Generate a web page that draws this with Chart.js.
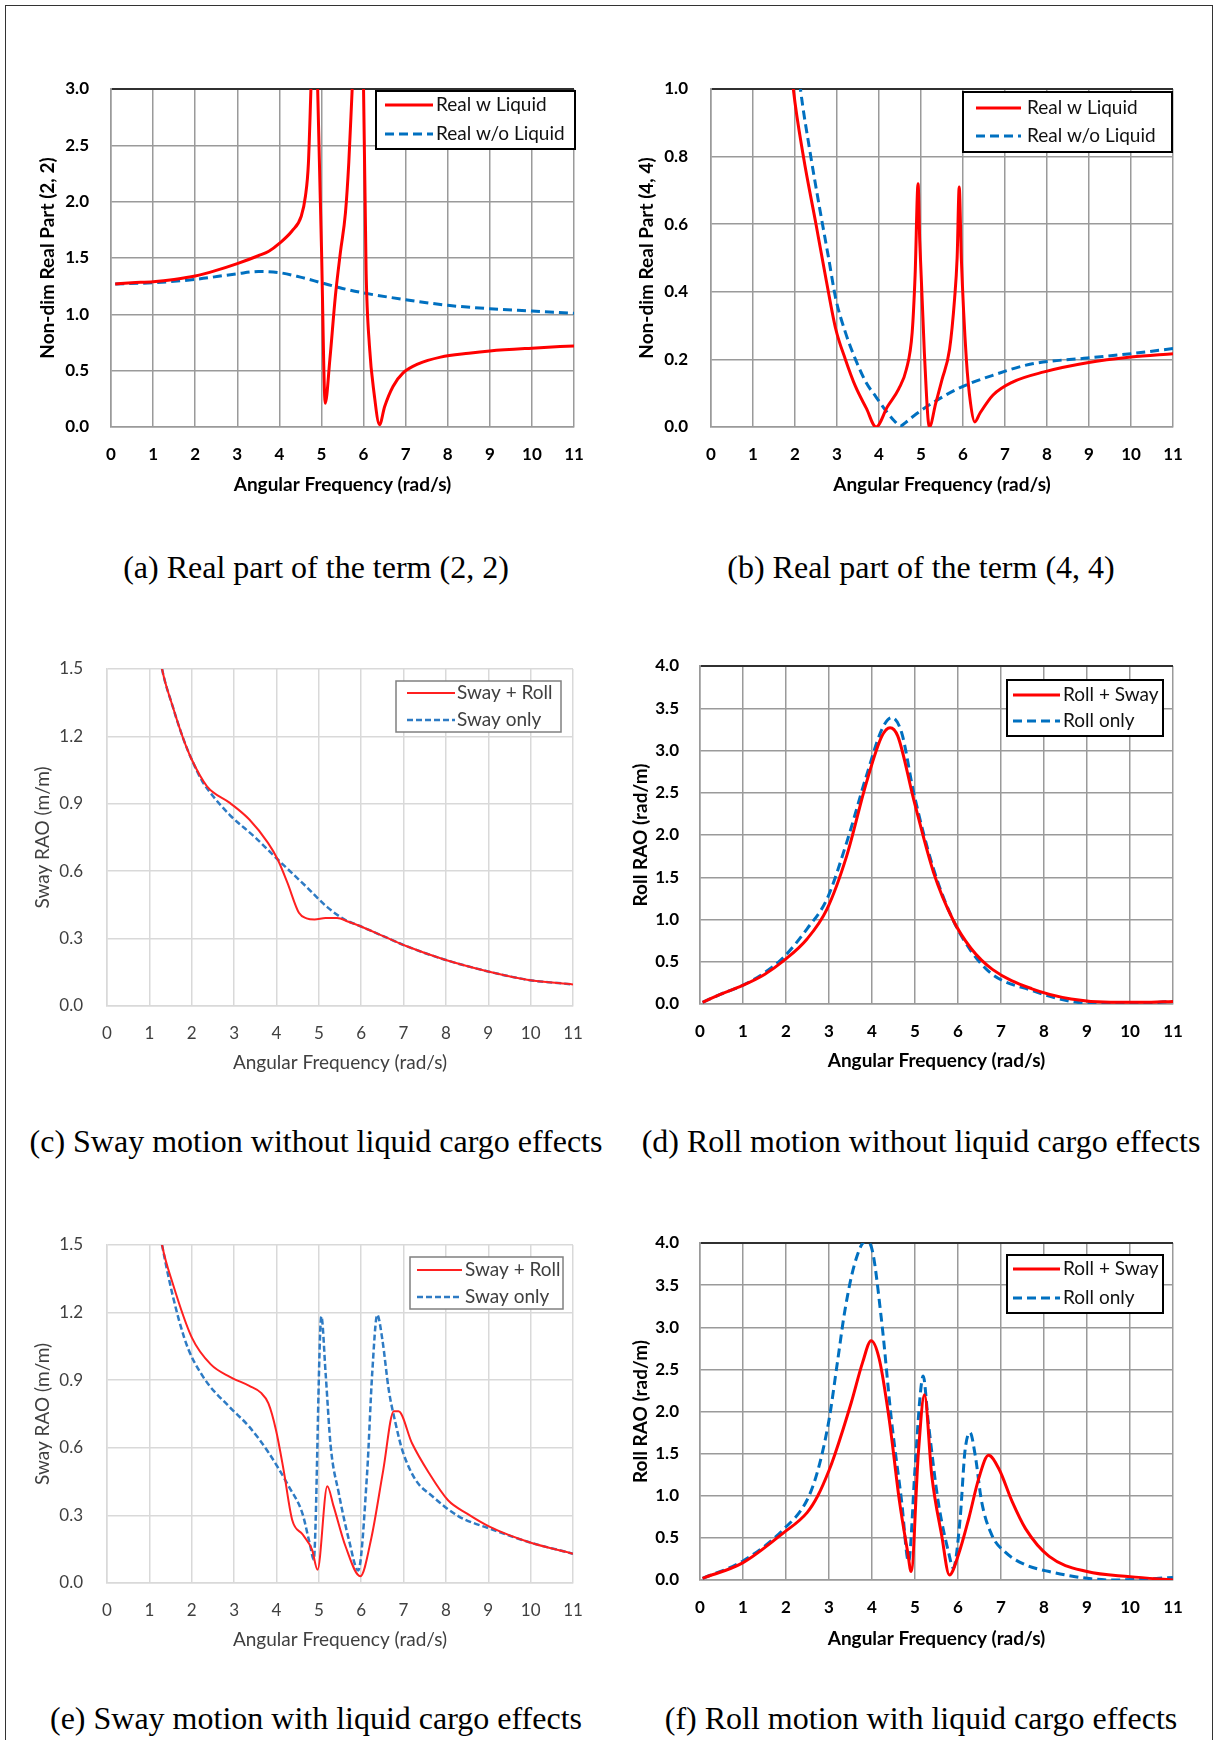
<!DOCTYPE html>
<html>
<head>
<meta charset="utf-8">
<title>Hydrodynamic coefficients and RAOs</title>
<script src="https://cdn.jsdelivr.net/npm/chart.js@4.4.1/dist/chart.umd.min.js"></script>
<style>
  body { margin: 0; background: #fff; }
  #page { position: relative; width: 1216px; height: 1740px; overflow: hidden; background: #fff; }
  #frame { position: absolute; left: 5px; top: 5px; width: 1206px; height: 1800px; border: 1.5px solid #333; }
  canvas { position: absolute; }
  .cap {
    position: absolute; white-space: nowrap; color: #000;
    font-family: "Liberation Serif", "Times New Roman", serif; font-size: 32px;
    transform: translate(-50%, -50%);
  }
</style>
</head>
<body>
<div id="page"><div id="frame"></div></div>
<script>
/*----------------------------------------------------------------------------*/
/* Data                                              */
/*----------------------------------------------------------------------------*/
const xTicks = [0, 1, 2, 3, 4, 5, 6, 7, 8, 9, 10, 11];
const yTicksRealA = [0, 0.5, 1, 1.5, 2, 2.5, 3];
const yTicksRealB = [0, 0.2, 0.4, 0.6, 0.8, 1];
const yTicksSway = [0, 0.3, 0.6, 0.9, 1.2, 1.5];
const yTicksRoll = [0, 0.5, 1, 1.5, 2, 2.5, 3, 3.5, 4];

const labelsReal = ["Real w Liquid", "Real w/o Liquid"];
const labelsSway = ["Sway + Roll", "Sway only"];
const labelsRoll = ["Roll + Sway", "Roll only"];

const xTitle = "Angular Frequency (rad/s)";
const yTitles = ["Non-dim Real Part (2, 2)", "Non-dim Real Part (4, 4)", "Sway RAO (m/m)",
                 "Roll RAO (rad/m)", "Sway RAO (m/m)", "Roll RAO (rad/m)"];
const captions = ["(a) Real part of the term (2, 2)", "(b) Real part of the term (4, 4)",
                  "(c) Sway motion without liquid cargo effects", "(d) Roll motion without liquid cargo effects",
                  "(e) Sway motion with liquid cargo effects", "(f) Roll motion with liquid cargo effects"];

// (a) term (2, 2)
const aWithX = [0.1, 0.5, 1, 1.5, 2, 2.5, 3, 3.5, 3.75, 4, 4.3, 4.52, 4.62, 4.69, 4.75, 4.8, 4.84, 4.91, 5.0, 5.09,
                5.2, 5.33, 5.45, 5.57, 5.65, 5.73, 5.86, 6.0, 6.06, 6.14, 6.25, 6.38, 6.5, 6.7, 6.94, 7.3, 7.83,
                8.5, 9, 10, 11];
const aWithY = [1.27, 1.28, 1.29, 1.31, 1.34, 1.39, 1.45, 1.52, 1.56, 1.63, 1.74, 1.87, 2.05, 2.34, 3.0, 3.6, 4.2, 3.0, 1.6, 0.21,
                0.6, 1.16, 1.55, 1.9, 2.35, 3.0, 4.0, 3.0, 1.4, 0.72, 0.3, 0.02, 0.18, 0.36, 0.48, 0.56, 0.62,
                0.655, 0.675, 0.7, 0.72];
const aWithoutX = [0.1, 1, 2, 3, 3.5, 4, 4.5, 5, 5.5, 6, 7, 8, 9, 10, 11];
const aWithoutY = [1.27, 1.28, 1.31, 1.36, 1.38, 1.37, 1.33, 1.28, 1.23, 1.19, 1.13, 1.08, 1.05, 1.03, 1.01];

// (b) term (4, 4)
const bWithX = [1.9, 1.96, 2.2, 2.5, 2.75, 2.97, 3.2, 3.44, 3.7, 3.93, 4.2, 4.47, 4.65, 4.79, 4.86, 4.93, 4.97, 5.08, 5.2,
                5.35, 5.5, 5.68, 5.8, 5.86, 5.91, 5.96, 6.08, 6.18, 6.28, 6.4, 6.71, 7.18, 7.93, 8.96, 10, 11];
const bWithY = [1.08, 1.0, 0.8, 0.6, 0.43, 0.29, 0.2, 0.12, 0.055, 0.0, 0.06, 0.113, 0.17, 0.28, 0.45, 0.72, 0.55, 0.22, 0.0,
                0.07, 0.14, 0.23, 0.38, 0.5, 0.71, 0.5, 0.2, 0.07, 0.015, 0.04, 0.094, 0.133, 0.163, 0.19, 0.207, 0.217];
const bWithoutX = [2.08, 2.13, 2.35, 2.59, 2.8, 2.97, 3.2, 3.44, 3.7, 3.9, 4.19, 4.35, 4.51, 4.65, 4.84, 5.31, 5.96,
                   6.71, 7.65, 8.96, 10, 11];
const bWithoutY = [1.06, 1.0, 0.82, 0.645, 0.5, 0.38, 0.28, 0.2, 0.13, 0.094, 0.044, 0.02, 0.003, 0.015, 0.034, 0.074,
                   0.118, 0.153, 0.187, 0.204, 0.217, 0.232];

// (c) sway, no liquid
const cCoupledX = [1.2, 1.3, 1.55, 1.8, 2.0, 2.36, 2.9, 3.36, 3.8, 4.03, 4.26, 4.53, 4.71, 4.9, 5.16, 5.43, 5.7, 5.97,
                   6.52, 7.06, 7.96, 8.95, 9.95, 11];
const cCoupledY = [1.62, 1.5, 1.334, 1.19, 1.097, 0.978, 0.904, 0.83, 0.726, 0.652, 0.548, 0.415, 0.39, 0.385, 0.392,
                   0.392, 0.375, 0.356, 0.311, 0.267, 0.207, 0.156, 0.116, 0.096];
const cSingleX = [1.2, 1.3, 1.55, 1.8, 2.0, 2.25, 2.5, 2.9, 3.5, 4.03, 4.71, 5.2, 5.61, 5.97, 6.52, 7.06, 7.96, 8.95,
                  9.95, 11];
const cSingleY = [1.62, 1.5, 1.334, 1.19, 1.097, 1.0, 0.935, 0.85, 0.75, 0.652, 0.53, 0.44, 0.385, 0.356, 0.311,
                  0.267, 0.207, 0.156, 0.116, 0.096];

// (d) roll, no liquid
const dCoupledX = [0.06, 0.5, 0.98, 1.5, 1.94, 2.49, 2.95, 3.41, 3.87, 4.23, 4.42, 4.6, 4.97, 5.43, 5.88, 6.3, 6.8, 7.72,
                   8.63, 9.55, 10.3, 11];
const dCoupledY = [0.02, 0.12, 0.217, 0.35, 0.51, 0.77, 1.12, 1.75, 2.62, 3.17, 3.27, 3.17, 2.42, 1.56, 1.0, 0.66, 0.41,
                   0.18, 0.06, 0.02, 0.02, 0.03];
const dSingleX = [0.06, 0.5, 0.98, 1.5, 1.94, 2.49, 2.95, 3.41, 3.87, 4.23, 4.46, 4.69, 4.97, 5.43, 5.88, 6.3, 6.8, 7.72,
                  8.63, 9.55, 10.3, 11];
const dSingleY = [0.02, 0.12, 0.217, 0.37, 0.55, 0.89, 1.24, 1.91, 2.7, 3.25, 3.39, 3.21, 2.5, 1.6, 1.0, 0.63, 0.35,
                  0.16, 0.03, 0.0, 0.01, 0.03];

// (e) sway, with liquid
const eCoupledX = [1.2, 1.3, 1.55, 2.0, 2.45, 2.9, 3.36, 3.63, 3.81, 3.99, 4.17, 4.37, 4.62, 4.84, 4.97, 5.2, 5.35, 5.63,
                   5.98, 6.24, 6.52, 6.77, 6.88, 7.2, 7.6, 8.05, 8.5, 9.04, 9.95, 11];
const eCoupledY = [1.62, 1.5, 1.33, 1.09, 0.97, 0.915, 0.875, 0.845, 0.797, 0.678, 0.5, 0.281, 0.215, 0.148, 0.059, 0.429,
                   0.34, 0.163, 0.03, 0.2, 0.5, 0.762, 0.762, 0.62, 0.488, 0.367, 0.308, 0.249, 0.182, 0.13];
const eSingleX = [1.2, 1.3, 1.82, 2.27, 2.9, 3.35, 3.82, 4.29, 4.61, 4.8, 4.88, 5.06, 5.16, 5.28, 5.47, 5.71, 5.93, 6.14,
                  6.26, 6.38, 6.5, 6.65, 6.81, 6.97, 7.28, 7.68, 8.3, 9.04, 9.95, 11];
const eSingleY = [1.62, 1.5, 1.09, 0.915, 0.78, 0.695, 0.577, 0.429, 0.31, 0.163, 0.104, 1.183, 0.932, 0.607, 0.4, 0.192,
                  0.056, 0.488, 0.93, 1.19, 1.08, 0.858, 0.71, 0.59, 0.459, 0.385, 0.296, 0.241, 0.182, 0.13];

// (f) roll, with liquid
const fCoupledX = [0.06, 0.98, 1.94, 2.49, 2.74, 3.0, 3.13, 3.52, 3.78, 3.98, 4.17, 4.41, 4.64, 4.83, 4.91, 5.08, 5.22,
                   5.39, 5.62, 5.8, 6.01, 6.25, 6.48, 6.71, 6.95, 7.26, 7.57, 8.12, 9, 10, 11];
const fCoupledY = [0.02, 0.2, 0.56, 0.8, 1.0, 1.3, 1.48, 2.11, 2.58, 2.84, 2.62, 1.87, 0.93, 0.33, 0.1, 1.52, 2.2,
                   1.24, 0.53, 0.06, 0.3, 0.73, 1.2, 1.48, 1.32, 0.93, 0.61, 0.28, 0.1, 0.04, 0.0];
const fSingleX = [0.06, 0.98, 1.94, 2.49, 2.74, 3.0, 3.2, 3.37, 3.6, 3.85, 3.98, 4.22, 4.45, 4.69, 4.85, 5.0, 5.12, 5.19,
                  5.31, 5.54, 5.78, 5.89, 6.05, 6.16, 6.28, 6.4, 6.55, 6.79, 7.1, 7.57, 8.12, 9, 9.6, 10.3, 11];
const fSingleY = [0.02, 0.22, 0.6, 0.95, 1.3, 1.9, 2.6, 3.2, 3.76, 4.02, 3.96, 3.09, 1.91, 0.93, 0.22, 1.32, 2.19, 2.42,
                  1.87, 0.93, 0.33, 0.14, 0.73, 1.52, 1.75, 1.48, 0.93, 0.53, 0.33, 0.18, 0.1, 0.02, 0.0, 0.01, 0.03];

/*----------------------------------------------------------------------------*/
/* Styles                                                                     */
/*----------------------------------------------------------------------------*/
const page = document.getElementById("page");
Chart.defaults.font.family = "Lato, 'DejaVu Sans', sans-serif";

const TICK_SIZE = 17;
const TITLE_SIZE = 19;

const heavy = {
    grid: "#9a9a9a", gridTop: "#303030", text: "#000", weight: "bold",
    red: "#ff0000", redWidth: 3, blue: "#0070c0", blueWidth: 3, dash: [9, 5],
    legendBorder: "#000", legendBorderWidth: 2, legendText: "#111"
};
const light = {
    grid: "#d9d9d9", gridTop: "#d9d9d9", text: "#404040", weight: "normal",
    red: "#ff2020", redWidth: 2, blue: "#2e7bc4", blueWidth: 2.5, dash: [6, 3],
    legendBorder: "#808080", legendBorderWidth: 1.5, legendText: "#404040"
};

function points(xs, ys) {
    return xs.map((x, i) => ({ x: x, y: ys[i] }));
}

// legend drawn inside the plot, boxed, like the spreadsheet originals
const boxLegend = {
    id: "boxLegend",
    afterDraw(chart, args, o) {
        const ctx = chart.ctx;
        const area = chart.chartArea;
        const x = area.right - o.right - o.width;
        const y = area.top + o.top;
        ctx.save();
        ctx.fillStyle = "#fff";
        ctx.fillRect(x, y, o.width, o.height);
        ctx.strokeStyle = o.borderColor;
        ctx.lineWidth = o.borderWidth;
        ctx.strokeRect(x, y, o.width, o.height);
        chart.data.datasets.forEach((ds, i) => {
            const ry = y + o.rows[i];
            ctx.beginPath();
            ctx.setLineDash(ds.borderDash || []);
            ctx.strokeStyle = ds.borderColor;
            ctx.lineWidth = ds.borderWidth;
            ctx.moveTo(x + o.line[0], ry);
            ctx.lineTo(x + o.line[1], ry);
            ctx.stroke();
            ctx.setLineDash([]);
            ctx.fillStyle = o.color;
            ctx.font = TITLE_SIZE + "px Lato, sans-serif";
            ctx.textBaseline = "middle";
            ctx.fillText(ds.label, x + o.textX, ry);
        });
        ctx.restore();
    }
};

/*----------------------------------------------------------------------------*/
/* Panels                                                                     */
/*----------------------------------------------------------------------------*/
function buildPanel(p) {
    const s = p.style;
    const half = 0.6 * TITLE_SIZE;
    const left = Math.round(p.yTitleX - half);
    // chart.js pads the top by half a tick label plus the tick padding
    const padTop = Math.ceil(0.6 * TICK_SIZE + p.yPad) + 2;
    const padRight = 34;
    const top = p.plot[1] - padTop;
    const xAxisH = Math.round(p.xTitleGap + half);
    const w = p.plot[2] + padRight - left;
    const h = p.plot[3] - p.plot[1] + padTop + xAxisH;

    const cv = document.createElement("canvas");
    cv.width = w;
    cv.height = h;
    cv.style.left = left + "px";
    cv.style.top = top + "px";
    cv.style.width = w + "px";
    cv.style.height = h + "px";
    page.appendChild(cv);

    const yMax = p.yTicks[p.yTicks.length - 1];
    const tickFont = { size: TICK_SIZE, weight: s.weight };
    const titleFont = { size: TITLE_SIZE, weight: s.weight, lineHeight: 1.2 };

    new Chart(cv, {
        type: "line",
        data: {
            datasets: [{
                label: p.labels[0],
                data: points(p.redX, p.redY),
                borderColor: s.red,
                borderWidth: s.redWidth,
                pointRadius: 0,
                cubicInterpolationMode: "monotone"
            }, {
                label: p.labels[1],
                data: points(p.blueX, p.blueY),
                borderColor: s.blue,
                borderWidth: s.blueWidth,
                borderDash: s.dash,
                pointRadius: 0,
                cubicInterpolationMode: "monotone"
            }]
        },
        options: {
            responsive: false,
            animation: false,
            devicePixelRatio: 1,
            layout: { padding: { top: padTop, right: padRight, left: 0, bottom: 0 } },
            scales: {
                x: {
                    type: "linear", min: 0, max: 11,
                    afterBuildTicks: sc => { sc.ticks = xTicks.map(v => ({ value: v })); },
                    afterFit: sc => { sc.height = xAxisH; },
                    grid: { color: s.grid, lineWidth: 1.5, drawTicks: false },
                    border: { color: s.grid, width: 1.5 },
                    ticks: { color: s.text, font: tickFont, padding: 17, maxRotation: 0, autoSkip: false },
                    title: { display: true, text: xTitle, color: s.text, padding: 0, font: titleFont }
                },
                y: {
                    type: "linear", min: 0, max: yMax,
                    afterBuildTicks: sc => { sc.ticks = p.yTicks.map(v => ({ value: v })); },
                    afterFit: sc => { sc.width = p.plot[0] - left; },
                    grid: {
                        color: c => (c.tick && c.tick.value === yMax ? s.gridTop : s.grid),
                        lineWidth: c => (c.tick && c.tick.value === yMax && s === heavy ? 2 : 1.5),
                        drawTicks: false
                    },
                    border: { color: s.grid, width: 1.5 },
                    ticks: { color: s.text, font: tickFont, padding: p.yPad,
                             callback: v => Number(v).toFixed(1) },
                    title: { display: true, text: p.yTitle, color: s.text, padding: 0, font: titleFont }
                }
            },
            plugins: {
                legend: { display: false },
                tooltip: { enabled: false },
                boxLegend: Object.assign({ borderColor: s.legendBorder, borderWidth: s.legendBorderWidth,
                                           color: s.legendText }, p.legend)
            }
        },
        plugins: [boxLegend]
    });

    const cap = document.createElement("div");
    cap.className = "cap";
    cap.textContent = p.caption;
    cap.style.left = p.capPos[0] + "px";
    cap.style.top = p.capPos[1] + "px";
    page.appendChild(cap);
}

const panels = [
    { plot: [111, 89, 574, 427], yTitleX: 47, yPad: 22, xTitleGap: 58, style: heavy,
      yTicks: yTicksRealA, labels: labelsReal, yTitle: yTitles[0], caption: captions[0], capPos: [316, 567],
      redX: aWithX, redY: aWithY, blueX: aWithoutX, blueY: aWithoutY,
      legend: { right: -1, top: 2, width: 199, height: 58, line: [9, 57], textX: 60, rows: [14, 43] } },
    { plot: [711, 89, 1173, 427], yTitleX: 646, yPad: 23, xTitleGap: 58, style: heavy,
      yTicks: yTicksRealB, labels: labelsReal, yTitle: yTitles[1], caption: captions[1], capPos: [921, 567],
      redX: bWithX, redY: bWithY, blueX: bWithoutX, blueY: bWithoutY,
      legend: { right: 1, top: 3, width: 209, height: 60, line: [13, 58], textX: 64, rows: [16, 44] } },
    { plot: [107, 669, 573, 1006], yTitleX: 42, yPad: 24, xTitleGap: 57, style: light,
      yTicks: yTicksSway, labels: labelsSway, yTitle: yTitles[2], caption: captions[2], capPos: [316, 1141],
      redX: cCoupledX, redY: cCoupledY, blueX: cSingleX, blueY: cSingleY,
      legend: { right: 12, top: 12, width: 165, height: 51, line: [11, 59], textX: 61, rows: [12, 39] } },
    { plot: [700, 666, 1173, 1004], yTitleX: 640, yPad: 21, xTitleGap: 57, style: heavy,
      yTicks: yTicksRoll, labels: labelsRoll, yTitle: yTitles[3], caption: captions[3], capPos: [921, 1141],
      redX: dCoupledX, redY: dCoupledY, blueX: dSingleX, blueY: dSingleY,
      legend: { right: 10, top: 14, width: 156, height: 56, line: [6, 53], textX: 56, rows: [15, 41] } },
    { plot: [107, 1245, 573, 1583], yTitleX: 42, yPad: 24, xTitleGap: 57, style: light,
      yTicks: yTicksSway, labels: labelsSway, yTitle: yTitles[4], caption: captions[4], capPos: [316, 1718],
      redX: eCoupledX, redY: eCoupledY, blueX: eSingleX, blueY: eSingleY,
      legend: { right: 10, top: 12, width: 153, height: 52, line: [7, 52], textX: 55, rows: [13, 40] } },
    { plot: [700, 1243, 1173, 1580], yTitleX: 640, yPad: 21, xTitleGap: 59, style: heavy,
      yTicks: yTicksRoll, labels: labelsRoll, yTitle: yTitles[5], caption: captions[5], capPos: [921, 1718],
      redX: fCoupledX, redY: fCoupledY, blueX: fSingleX, blueY: fSingleY,
      legend: { right: 10, top: 12, width: 156, height: 58, line: [6, 53], textX: 56, rows: [14, 43] } }
];

for (const p of panels) {
    buildPanel(p);
}
</script>
</body>
</html>
